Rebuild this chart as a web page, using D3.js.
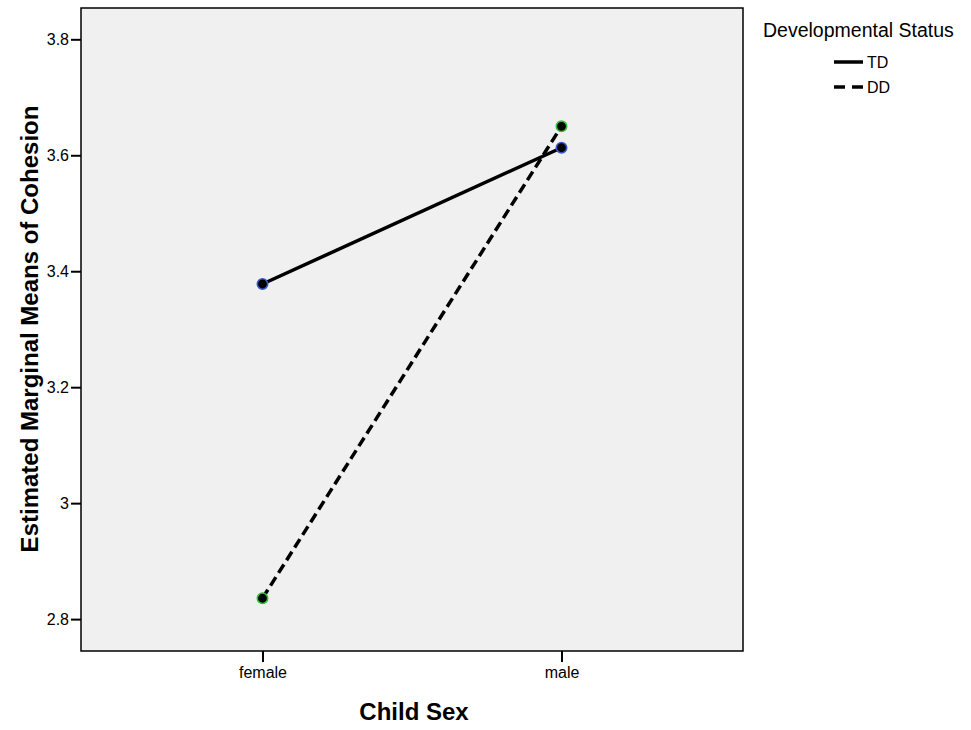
<!DOCTYPE html>
<html><head><meta charset="utf-8">
<script src="https://cdn.jsdelivr.net/npm/d3@7"></script>
<style>body{margin:0;background:#fff;} svg{display:block;font-family:Arial,"Liberation Sans",sans-serif;}</style>
</head><body>
<svg id="c" width="971" height="730"></svg>
<script>
const categories = ["female", "male"];
const seriesNames = ["TD", "DD"];
const tdValues = [3.378, 3.613];
const ddValues = [2.836, 3.650];
const yTicks = [2.8, 3.0, 3.2, 3.4, 3.6, 3.8];
const yTickLabels = ["2.8", "3", "3.2", "3.4", "3.6", "3.8"];

const svg = d3.select("#c");
const L = 81, R = 743, T = 8, B = 651;
const x = d3.scalePoint().domain(categories).range([L, R]).padding(0.607);
const y = d3.scaleLinear().domain([2.745, 3.854]).range([B, T]);

svg.append("rect").attr("x", L).attr("y", T).attr("width", R - L).attr("height", B - T)
  .attr("fill", "#f0f0f0").attr("stroke", "#000").attr("stroke-width", 1.5);

const yAxis = d3.axisLeft(y).tickValues(yTicks).tickSize(10).tickPadding(2)
  .tickFormat((d, i) => yTickLabels[i]);
const gy = svg.append("g").attr("transform", `translate(${L},0)`).call(yAxis);
gy.select(".domain").remove();
gy.selectAll("line").attr("stroke-width", 2);
gy.selectAll("text").attr("font-size", 16).attr("fill", "#000");

const xAxis = d3.axisBottom(x).tickSize(11).tickPadding(5);
const gx = svg.append("g").attr("transform", `translate(0,${B})`).call(xAxis);
gx.select(".domain").remove();
gx.selectAll("line").attr("stroke-width", 2);
gx.selectAll("text").attr("font-size", 16).attr("fill", "#000");

const series = [
  {name: seriesNames[0], values: tdValues, dash: null, ring: "#3a5bc7"},
  {name: seriesNames[1], values: ddValues, dash: "10,5", ring: "#2fc23a"}
];
const line = d3.line().x((d, i) => x(categories[i])).y(d => y(d));
series.forEach(s => {
  svg.append("path").datum(s.values).attr("d", line).attr("fill", "none")
    .attr("stroke", "#000").attr("stroke-width", 3.5)
    .attr("stroke-dasharray", s.dash);
});
series.forEach(s => {
  svg.selectAll(null).data(s.values).join("circle")
    .attr("cx", (d, i) => x(categories[i])).attr("cy", d => y(d)).attr("r", 5.2)
    .attr("fill", "#000").attr("stroke", s.ring).attr("stroke-width", 1.6);
});

// axis titles
svg.append("text").attr("x", 414).attr("y", 720).attr("text-anchor", "middle")
  .attr("font-size", 24).attr("font-weight", "bold").text("Child Sex");
svg.append("text").attr("transform", `translate(38,329) rotate(-90)`)
  .attr("text-anchor", "middle").attr("font-size", 24).attr("font-weight", "bold")
  .text("Estimated Marginal Means of Cohesion");

// legend
svg.append("text").attr("x", 763).attr("y", 37).attr("font-size", 19.5).text("Developmental Status");
series.forEach((s, i) => {
  const yy = 62 + i * 25;
  svg.append("line").attr("x1", 834).attr("x2", 863).attr("y1", yy).attr("y2", yy)
    .attr("stroke", "#000").attr("stroke-width", 3.5).attr("stroke-dasharray", s.dash ? "11,7" : null);
  svg.append("text").attr("x", 867).attr("y", yy + 6).attr("font-size", 16).text(s.name);
});
</script>
</body></html>
